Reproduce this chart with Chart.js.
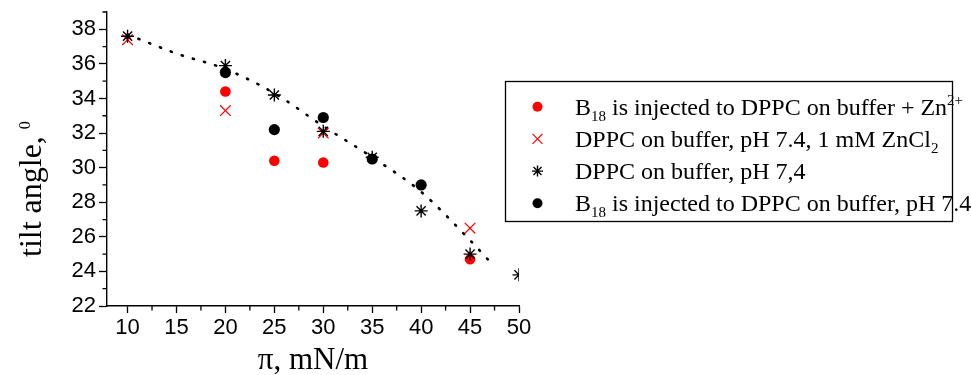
<!DOCTYPE html>
<html>
<head>
<meta charset="utf-8">
<script src="https://cdn.jsdelivr.net/npm/chart.js@4.4.0/dist/chart.umd.min.js"></script>
<style>
html, body { margin: 0; padding: 0; background: #fff; }
#wrap { width: 971px; height: 375px; }
</style>
</head>
<body>
<div id="wrap"><canvas id="tiltChart"></canvas></div>
<script>
"use strict";
var xTicks = [10, 15, 20, 25, 30, 35, 40, 45, 50];
var yTicks = [22, 24, 26, 28, 30, 32, 34, 36, 38];
var xMinor = [12.5, 17.5, 22.5, 27.5, 32.5, 37.5, 42.5, 47.5];
var yMinor = [23, 25, 27, 29, 31, 33, 35, 37, 39];

var znPressure = [20, 25, 30, 45];
var znTilt = [34.4, 30.4, 30.3, 24.7];
var zncl2Pressure = [10, 20, 30, 45];
var zncl2Tilt = [37.4, 33.3, 32.0, 26.5];
var bufferPressure = [10, 20, 25, 30, 35, 40, 45, 50];
var bufferTilt = [37.6, 35.9, 34.2, 32.1, 30.6, 27.5, 25.0, 23.8];
var b18Pressure = [20, 25, 30, 35, 40];
var b18Tilt = [35.5, 32.2, 32.9, 30.5, 29.0];
var fitPressure = [10, 15, 20, 25, 30, 35, 40, 45, 47.3];
var fitTilt = [37.7, 36.6, 35.7, 34.3, 32.4, 30.6, 28.6, 25.8, 24.4];

// legend text pieces: [text, "sub" | "sup" | ""]
var legendRows = [
    [["B", ""], ["18", "sub"], [" is injected to DPPC on buffer + Zn", ""], ["2+", "sup"]],
    [["DPPC on buffer, pH 7.4, 1 mM ZnCl", ""], ["2", "sub"]],
    [["DPPC on buffer, pH 7,4", ""]],
    [["B", ""], ["18", "sub"], [" is injected to DPPC on buffer, pH 7.4", ""]]
];
var legendMarks = [
    ["circle", "#ff0000"],
    ["crossRot", "#ff0000"],
    ["star", "#000000"],
    ["circle", "#000000"]
];

function toPoints(xs, ys) {
    return xs.map(function(x, i) { return {x: x, y: ys[i]}; });
}

function drawMark(ctx, style, color, x, y) {
    ctx.save();
    ctx.strokeStyle = color;
    ctx.fillStyle = color;
    ctx.beginPath();
    if (style === "circle") {
        ctx.arc(x, y, 5, 0, Math.PI * 2);
        ctx.fill();
    } else if (style === "crossRot") {
        ctx.lineWidth = 1.2;
        ctx.moveTo(x - 5, y - 5); ctx.lineTo(x + 5, y + 5);
        ctx.moveTo(x + 5, y - 5); ctx.lineTo(x - 5, y + 5);
        ctx.stroke();
    } else {
        ctx.lineWidth = 1.4;
        ctx.moveTo(x, y - 5.5); ctx.lineTo(x, y + 5.5);
        ctx.moveTo(x - 5.5, y); ctx.lineTo(x + 5.5, y);
        ctx.moveTo(x - 4, y - 4); ctx.lineTo(x + 4, y + 4);
        ctx.moveTo(x + 4, y - 4); ctx.lineTo(x - 4, y + 4);
        ctx.stroke();
    }
    ctx.restore();
}

var extrasPlugin = {
    id: "extras",
    afterDraw: function(chart) {
        var ctx = chart.ctx;
        var xs = chart.scales.x, ys = chart.scales.y;
        var area = chart.chartArea;
        ctx.save();
        ctx.strokeStyle = "#000";
        ctx.lineWidth = 1.3;
        ctx.beginPath();
        xMinor.forEach(function(v) {
            var px = xs.getPixelForValue(v);
            ctx.moveTo(px, area.bottom); ctx.lineTo(px, area.bottom + 4.5);
        });
        yMinor.forEach(function(v) {
            var py = ys.getPixelForValue(v);
            ctx.moveTo(area.left, py); ctx.lineTo(area.left - 4.5, py);
        });
        ctx.stroke();

        // axis titles
        ctx.fillStyle = "#000";
        ctx.textBaseline = "alphabetic";
        ctx.font = "31px 'Liberation Serif', 'Times New Roman', serif";
        ctx.textAlign = "center";
        ctx.fillText("\u03c0, mN/m", (area.left + area.right) / 2, 369);

        ctx.save();
        ctx.translate(40.5, 257);
        ctx.rotate(-Math.PI / 2);
        ctx.textAlign = "left";
        ctx.font = "32px 'Liberation Serif', 'Times New Roman', serif";
        ctx.fillText("tilt angle,", 0, 0);
        var w = ctx.measureText("tilt angle, ").width;
        ctx.font = "16px 'Liberation Serif', 'Times New Roman', serif";
        ctx.fillText("0", w - 1, -11);
        ctx.restore();

        // legend box
        ctx.lineWidth = 1.3;
        ctx.strokeRect(505.5, 81.5, 447, 140);
        legendRows.forEach(function(row, i) {
            var cy = 106.7 + i * 32.2;
            drawMark(ctx, legendMarks[i][0], legendMarks[i][1], 537.5, cy);
            var tx = 575;
            row.forEach(function(part) {
                var txt = part[0], kind = part[1];
                var dy = 0;
                if (kind === "") {
                    ctx.font = "24px 'Liberation Serif', 'Times New Roman', serif";
                } else {
                    ctx.font = "15px 'Liberation Serif', 'Times New Roman', serif";
                    dy = kind === "sub" ? 6 : -10;
                }
                ctx.textAlign = "left";
                ctx.fillText(txt, tx, cy + 8 + dy);
                tx += ctx.measureText(txt).width;
            });
        });
        ctx.restore();
    }
};

var tickFont = {family: "'Liberation Sans', Arial, sans-serif", size: 22};

var datasets = [{
    label: "fit",
    data: toPoints(fitPressure, fitTilt),
    showLine: true,
    borderColor: "#000",
    borderWidth: 2.6,
    borderDash: [1.2, 10.4],
    borderCapStyle: "round",
    cubicInterpolationMode: "monotone",
    pointRadius: 0,
    order: 5
}, {
    label: "B18 is injected to DPPC on buffer + Zn2+",
    data: toPoints(znPressure, znTilt),
    pointStyle: "circle",
    pointRadius: 5.3,
    backgroundColor: "#ff0000",
    borderColor: "#ff0000",
    borderWidth: 0,
    order: 4
}, {
    label: "DPPC on buffer, pH 7.4, 1 mM ZnCl2",
    data: toPoints(zncl2Pressure, zncl2Tilt),
    pointStyle: "crossRot",
    pointRadius: 7.5,
    borderColor: "#ff0000",
    borderWidth: 1.2,
    order: 3
}, {
    label: "DPPC on buffer, pH 7,4",
    data: toPoints(bufferPressure, bufferTilt),
    pointStyle: "star",
    pointRadius: 6.5,
    borderColor: "#000",
    borderWidth: 1.4,
    order: 2
}, {
    label: "B18 is injected to DPPC on buffer, pH 7.4",
    data: toPoints(b18Pressure, b18Tilt),
    pointStyle: "circle",
    pointRadius: 5.6,
    backgroundColor: "#000",
    borderColor: "#000",
    borderWidth: 0,
    order: 1
}];

var chart = new Chart(document.getElementById("tiltChart").getContext("2d"), {
    type: "scatter",
    data: {datasets: datasets},
    plugins: [extrasPlugin],
    options: {
        responsive: true,
        maintainAspectRatio: false,
        animation: false,
        layout: {padding: {left: 0, right: 452, top: 12, bottom: 0}},
        plugins: {legend: {display: false}, tooltip: {enabled: false}},
        scales: {
            x: {
                type: "linear",
                min: 7.9,
                max: 50,
                afterBuildTicks: function(s) { s.ticks = xTicks.map(function(v) { return {value: v}; }); },
                afterFit: function(s) { s.height = 69; s.paddingLeft = 0; s.paddingRight = 0; },
                border: {display: true, color: "#000", width: 1.4},
                grid: {drawOnChartArea: false, drawTicks: true, tickLength: 7, tickColor: "#000", tickWidth: 1.3},
                ticks: {color: "#000", font: tickFont, padding: 2, maxRotation: 0}
            },
            y: {
                type: "linear",
                min: 22,
                max: 39,
                afterBuildTicks: function(s) { s.ticks = yTicks.map(function(v) { return {value: v}; }); },
                afterFit: function(s) { s.width = 107; s.paddingTop = 0; s.paddingBottom = 0; },
                border: {display: true, color: "#000", width: 1.4},
                grid: {drawOnChartArea: false, drawTicks: true, tickLength: 8, tickColor: "#000", tickWidth: 1.3},
                ticks: {color: "#000", font: tickFont, padding: 3}
            }
        }
    }
});
</script>
</body>
</html>
